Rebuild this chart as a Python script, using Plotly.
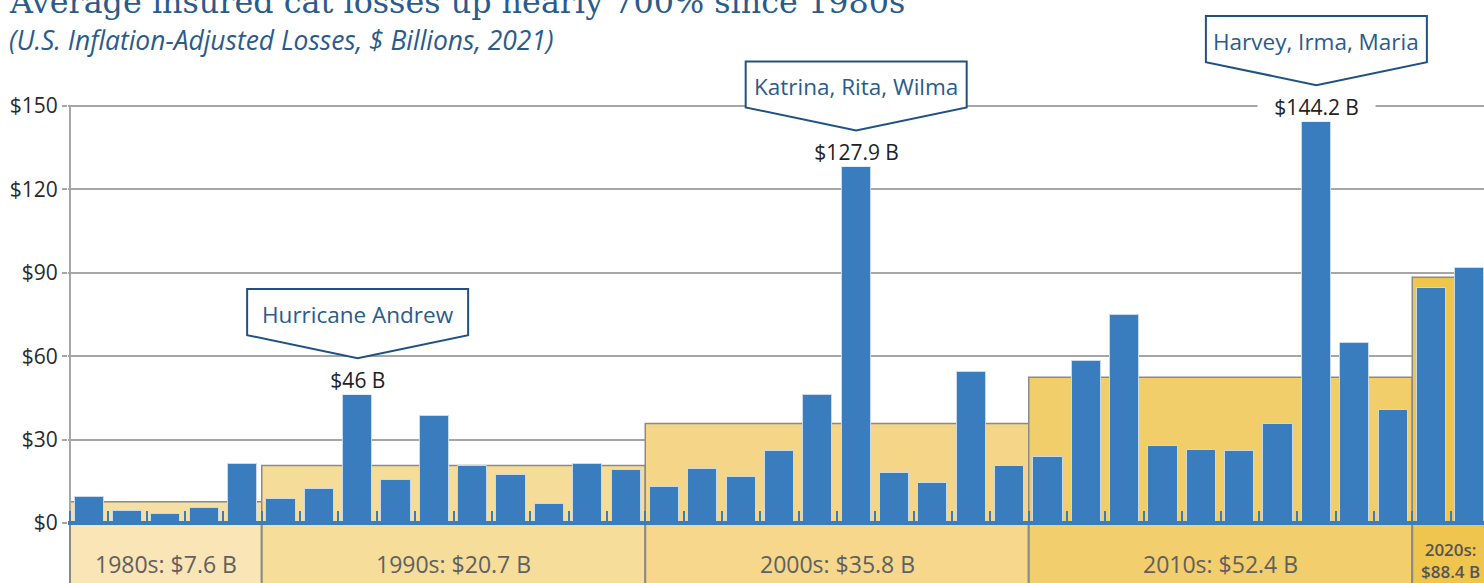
import plotly.graph_objects as go

# ---------------- data ----------------
years = list(range(1985, 2022))
losses = [9.2, 4.2, 3.2, 5.5, 21.1,
          8.7, 12.1, 46.0, 15.6, 38.5, 20.4, 17.1, 6.7, 21.1, 19.0,
          12.9, 19.3, 16.5, 25.9, 46.0, 127.9, 18.0, 14.4, 54.3, 20.5,
          23.6, 58.2, 74.7, 27.8, 26.3, 26.0, 35.5, 144.2, 64.7, 40.8,
          84.4, 91.7]

decade_labels = ["1980s: $7.6 B", "1990s: $20.7 B", "2000s: $35.8 B",
                 "2010s: $52.4 B", "2020s:<br>$88.4 B"]
decade_avgs = [7.6, 20.7, 35.8, 52.4, 88.4]
decade_start = [1985, 1990, 2000, 2010, 2020]
decade_end = [1989, 1999, 2009, 2019, 2021]

callout_years = [1992, 2005, 2017]
callout_texts = ["Hurricane Andrew", "Katrina, Rita, Wilma", "Harvey, Irma, Maria"]
peak_labels = ["$46 B", "$127.9 B", "$144.2 B"]

ytick_vals = [0, 30, 60, 90, 120, 150]
ytick_text = ["$0", "$30", "$60", "$90", "$120", "$150"]

title_text = "Average insured cat losses up nearly 700% since 1980s"
subtitle_text = "(U.S. Inflation-Adjusted Losses, $ Billions, 2021)"

# ---------------- styles ----------------
W, H = 1484, 583
BAR = "#3a7dbf"
GRID = "#a6a6a6"
BORDER = "#8a8a8a"
DARKBLUE = "#1f5283"
TXTBLUE = "#2a5b8b"
avg_fill = ["#f6dfa5", "#f5dc98", "#f5d688", "#f2ce6b", "#efc54c"]
lab_fill = ["#f9e5b6", "#f6dd9a", "#f6d78b", "#f2ce6c", "#f0c54e"]
FONT = "Open Sans"

px_per_year = 38.35
left_px = 68
x0r = years[0] - 0.5 - (70 - left_px) / px_per_year
x1r = years[0] - 0.5 + (W - 70) / px_per_year
px_per_unit = 417 / 150.0
y0r = -(H - 523) / px_per_unit
y1r = 523 / px_per_unit

fig = go.Figure()
fig.add_trace(go.Bar(
    x=years, y=losses, width=0.76,
    marker=dict(color=BAR, line=dict(color="rgba(205,222,240,0.9)", width=1)),
    hoverinfo="skip"))

shapes = []
annotations = []

# decade boxes
for i in range(len(decade_avgs)):
    xa = decade_start[i] - 0.5
    xb = decade_end[i] + 0.5
    shapes.append(dict(type="rect", xref="x", yref="y", x0=xa, x1=xb,
                       y0=y0r - 5, y1=0, fillcolor=lab_fill[i],
                       line=dict(color=BORDER, width=2), layer="between"))
    shapes.append(dict(type="rect", xref="x", yref="y", x0=xa, x1=xb,
                       y0=0, y1=decade_avgs[i], fillcolor=avg_fill[i],
                       line=dict(color=BORDER, width=1.5), layer="between"))
    small = i == len(decade_avgs) - 1
    annotations.append(dict(
        x=(xa + xb) / 2, y=0, xref="x", yref="y", text=decade_labels[i],
        showarrow=False, yanchor="middle", yshift=-37 if small else -41,
        font=dict(family=FONT, size=17 if small else 23,
                  color="#555555" if small else "#606060",
                  weight=600 if small else 400)))

# y axis line from 0 to 150
shapes.append(dict(type="line", xref="x", yref="y",
                   x0=years[0] - 0.5, x1=years[0] - 0.5,
                   y0=0, y1=ytick_vals[-1],
                   line=dict(color=GRID, width=2), layer="between"))

# callouts
for yr, txt, lab in zip(callout_years, callout_texts, peak_labels):
    v = losses[years.index(yr)]
    hw, tip, sh, top = 110.5, 37, 60, 106
    path = (f"M {-hw} {top} L {hw} {top} L {hw} {sh} L 0 {tip} "
            f"L {-hw} {sh} Z")
    shapes.append(dict(type="path", xref="x", yref="y",
                       xsizemode="pixel", ysizemode="pixel",
                       xanchor=yr, yanchor=v, path=path,
                       fillcolor="white",
                       line=dict(color=DARKBLUE, width=2), layer="above"))
    annotations.append(dict(x=yr, y=v, xref="x", yref="y", text=txt,
                            showarrow=False, yanchor="middle", yshift=81,
                            font=dict(family=FONT, size=22.5, color=TXTBLUE)))
    annotations.append(dict(x=yr, y=v, xref="x", yref="y",
                            text="\u00a0\u00a0\u00a0" + lab + "\u00a0\u00a0\u00a0",
                            showarrow=False, yanchor="middle", yshift=15,
                            bgcolor="white", borderpad=0,
                            font=dict(family=FONT, size=21, color="#222222")))

# title and subtitle
annotations.append(dict(x=0, y=1, xref="paper", yref="paper", xanchor="left",
                        yanchor="bottom", xshift=7 - left_px, yshift=-22,
                        text=title_text, showarrow=False,
                        font=dict(family="DejaVu Serif", size=31.8, color=TXTBLUE)))
annotations.append(dict(x=0, y=1, xref="paper", yref="paper", xanchor="left",
                        yanchor="middle", xshift=7 - left_px, yshift=-40,
                        text="<i>" + subtitle_text + "</i>", showarrow=False,
                        font=dict(family=FONT, size=26.4, color=TXTBLUE)))

xpos = (0 - y0r) / (y1r - y0r)
fig.update_layout(
    width=W, height=H,
    margin=dict(l=left_px, r=0, t=0, b=0, pad=0),
    paper_bgcolor="white", plot_bgcolor="white",
    showlegend=False, bargap=0,
    shapes=shapes, annotations=annotations,
    xaxis=dict(range=[x0r, x1r], anchor="free", position=xpos,
               showgrid=False, zeroline=False, showticklabels=False,
               showline=True, linecolor=BAR, linewidth=4,
               tickmode="array", tickvals=[y - 0.5 for y in years] + [years[-1] + 0.5],
               ticks="inside", ticklen=10, tickwidth=2, tickcolor=BAR,
               fixedrange=True),
    yaxis=dict(range=[y0r, y1r], tickmode="array", tickvals=ytick_vals,
               ticktext=ytick_text, showgrid=True, gridcolor=GRID,
               gridwidth=2, zeroline=False, showline=False,
               ticks="outside", ticklen=5, tickwidth=2, tickcolor=GRID,
               ticklabelstandoff=0,
               tickfont=dict(family=FONT, size=21, color="#2a2a2a"),
               fixedrange=True),
)

fig.write_html("out.html", config={"displayModeBar": False},
               post_script="document.body.style.margin='0px';")
